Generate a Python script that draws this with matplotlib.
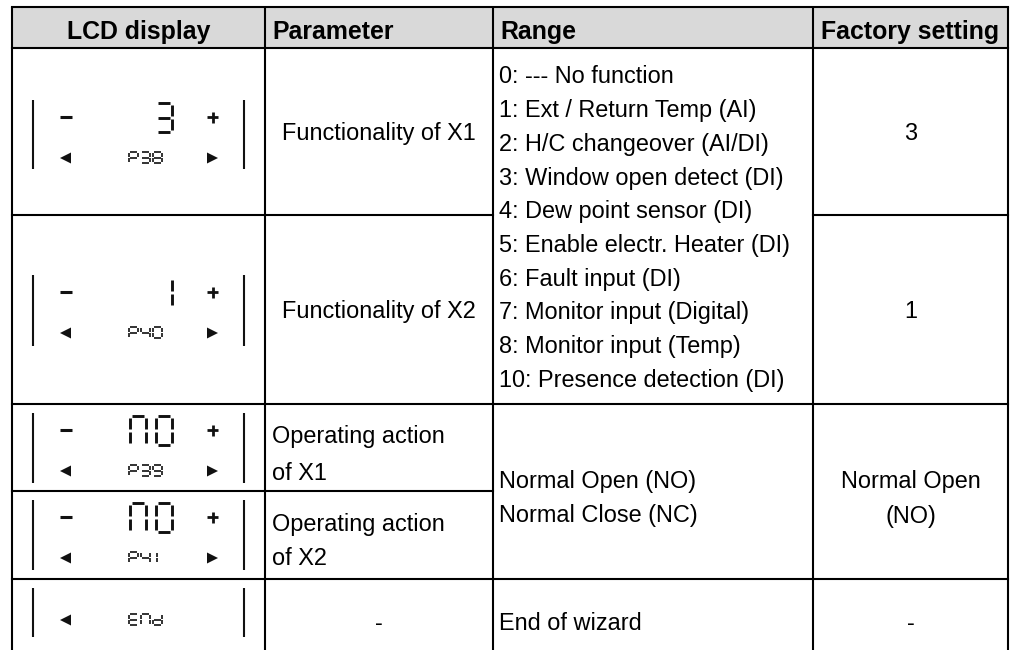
import matplotlib
matplotlib.use('Agg')
import matplotlib.pyplot as plt
from matplotlib.patches import Rectangle, Polygon

plt.rcParams['font.family'] = ['Liberation Sans', 'DejaVu Sans']

# ---------------- data ----------------
headers = ['LCD display', 'Parameter', 'Range', 'Factory setting']
lcd_values = ['3', '1', 'NO', 'NO', '']          # large 7-segment value
lcd_codes = ['P38', 'P40', 'P39', 'P41', 'End']  # small 7-segment code
lcd_plusminus = [True, True, True, True, False]
parameters = [['Functionality of X1'], ['Functionality of X2'],
              ['Operating action', 'of X1'], ['Operating action', 'of X2'], ['-']]
range_function = ['0: --- No function', '1: Ext / Return Temp (AI)',
                  '2: H/C changeover (AI/DI)', '3: Window open detect (DI)',
                  '4: Dew point sensor (DI)', '5: Enable electr. Heater (DI)',
                  '6: Fault input (DI)', '7: Monitor input (Digital)',
                  '8: Monitor input (Temp)', '10: Presence detection (DI)']
range_action = ['Normal Open (NO)', 'Normal Close (NC)']
range_end = ['End of wizard']
factory = ['3', '1', ['Normal Open', '(NO)'], '-']

# ---------------- layout ----------------
W, H = 1011, 650
col_x = [12, 265, 493, 813, 1008]
row_y = [7, 48, 215, 404, 491, 579, 650]

fig = plt.figure(figsize=(W / 100, H / 100), dpi=100)
ax = fig.add_axes([0, 0, 1, 1])
ax.set_xlim(0, W)
ax.set_ylim(H, 0)
ax.axis('off')

LW = 1.5
BODY = 16.9
HEAD = 17.9


def txt(x, yc, s, size=BODY, ha='left', weight='normal'):
    half = 0.358 * size / 0.72
    ax.text(x, yc + half, s, fontsize=size, ha=ha, va='baseline',
            fontweight=weight, color='black')


# header background
ax.add_patch(Rectangle((col_x[0], row_y[0]), col_x[-1] - col_x[0],
                       row_y[1] - row_y[0], facecolor='#d9d9d9',
                       edgecolor='none', zorder=0))

# grid lines
for x in col_x:
    ax.plot([x, x], [row_y[0], H], color='black', lw=LW, solid_capstyle='butt')
ax.plot([col_x[0], col_x[-1]], [row_y[0]] * 2, color='black', lw=LW)
ax.plot([col_x[0], col_x[-1]], [row_y[1]] * 2, color='black', lw=LW)
ax.plot([col_x[0], col_x[2]], [row_y[2]] * 2, color='black', lw=LW)
ax.plot([col_x[3], col_x[4]], [row_y[2]] * 2, color='black', lw=LW)
ax.plot([col_x[0], col_x[-1]], [row_y[3]] * 2, color='black', lw=LW)
ax.plot([col_x[0], col_x[2]], [row_y[4]] * 2, color='black', lw=LW)
ax.plot([col_x[0], col_x[-1]], [row_y[5]] * 2, color='black', lw=LW)

# header text
hc = 30
txt((col_x[0] + col_x[1]) / 2, hc, headers[0], HEAD, 'center', 'bold')
txt(col_x[1] + 7, hc, headers[1], HEAD, 'left', 'bold')
txt(col_x[2] + 7, hc, headers[2], HEAD, 'left', 'bold')
txt((col_x[3] + col_x[4]) / 2, hc, headers[3], HEAD, 'center', 'bold')

# parameter column
pc = (col_x[1] + col_x[2]) / 2
txt(pc, (row_y[1] + row_y[2]) / 2, parameters[0][0], ha='center')
txt(pc, (row_y[2] + row_y[3]) / 2, parameters[1][0], ha='center')
txt(col_x[1] + 7, 435, parameters[2][0])
txt(col_x[1] + 7, 472, parameters[2][1])
txt(col_x[1] + 7, 523, parameters[3][0])
txt(col_x[1] + 7, 557, parameters[3][1])
txt(pc, 622, parameters[4][0], ha='center')

# range column
for i, s in enumerate(range_function):
    txt(col_x[2] + 6, 75 + i * 33.7, s)
txt(col_x[2] + 6, 480, range_action[0])
txt(col_x[2] + 6, 514, range_action[1])
txt(col_x[2] + 6, 622, range_end[0])

# factory column
fc = (col_x[3] + col_x[4]) / 2
txt(fc, (row_y[1] + row_y[2]) / 2, factory[0], ha='center')
txt(fc, (row_y[2] + row_y[3]) / 2, factory[1], ha='center')
txt(fc, 480, factory[2][0], ha='center')
txt(fc, 515, factory[2][1], ha='center')
txt(fc, 622, factory[3], ha='center')

# ---------------- LCD icons ----------------
SEGS = {'0': 'abcdef', 'O': 'abcdef', '1': 'bc', '3': 'abcdg', '4': 'bcfg',
        '8': 'abcdefg', '9': 'abcdfg', 'P': 'abefg', 'N': 'abcef',
        'E': 'adefg', 'n': 'abcef', 'd': 'bcdeg'}
INK = '#111111'


def seg_char(ch, x0, y0, w, h, lw, g, small=False):
    m = y0 + h / 2
    if small and ch == '1':
        xc = x0 + w / 2
        ax.plot([xc, xc], [y0 + g, m - g], color=INK, lw=lw, solid_capstyle='butt')
        ax.plot([xc, xc], [m + g, y0 + h - g], color=INK, lw=lw, solid_capstyle='butt')
        return
    coords = {
        'a': ([x0 + g, x0 + w - g], [y0, y0]),
        'b': ([x0 + w, x0 + w], [y0 + g, m - g]),
        'c': ([x0 + w, x0 + w], [m + g, y0 + h - g]),
        'd': ([x0 + g, x0 + w - g], [y0 + h, y0 + h]),
        'e': ([x0, x0], [m + g, y0 + h - g]),
        'f': ([x0, x0], [y0 + g, m - g]),
        'g': ([x0 + g, x0 + w - g], [m, m]),
    }
    for s in SEGS.get(ch, ''):
        xs, ys = coords[s]
        ax.plot(xs, ys, color=INK, lw=lw, solid_capstyle='butt')


def arrow(xc, yc, direction):
    if direction < 0:
        pts = [(xc - 6, yc), (xc + 5, yc - 5.5), (xc + 5, yc + 5.5)]
    else:
        pts = [(xc + 6, yc), (xc - 5, yc - 5.5), (xc - 5, yc + 5.5)]
    ax.add_patch(Polygon(pts, closed=True, facecolor=INK, edgecolor='none'))


bar_tops = [100, 275, 413, 500, 588]
bar_bots = [169, 346, 483, 570, 637]
xl, xr = 33, 244
big_cells = [130, 156]
small_cells = [129, 141, 153]

for r in range(5):
    t, b = bar_tops[r], bar_bots[r]
    ax.plot([xl, xl], [t, b], color=INK, lw=1.5, solid_capstyle='butt')
    ax.plot([xr, xr], [t, b], color=INK, lw=1.5, solid_capstyle='butt')
    if lcd_plusminus[r]:
        uy = t + 17
        ly = t + 58
        ax.plot([60, 72], [uy, uy], color=INK, lw=2.2, solid_capstyle='butt')
        ax.plot([207, 218], [uy, uy], color=INK, lw=2.0, solid_capstyle='butt')
        ax.plot([212.5, 212.5], [uy - 5.5, uy + 5.5], color=INK, lw=2.0,
                solid_capstyle='butt')
        arrow(66, ly, -1)
        arrow(212, ly, 1)
        val = lcd_values[r]
        cells = big_cells[-len(val):]
        for ch, cx in zip(val, cells):
            seg_char(ch, cx, t + 3, 16, 29, 2.1, 1.6)
        st = t + 52
    else:
        arrow(66, t + 32, -1)
        st = t + 26
    for ch, cx in zip(lcd_codes[r], small_cells):
        seg_char(ch, cx, st, 8.5, 11, 1.2, 0.9, small=True)

fig.savefig('out.png', dpi=100)
